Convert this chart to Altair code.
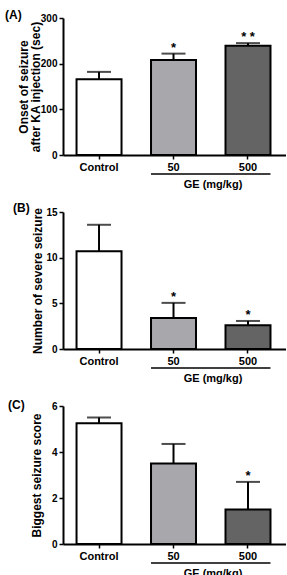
import altair as alt
import pandas as pd

categories = ["Control", "50", "500"]
fills = ["#ffffff", "#a8a7ab", "#646464"]

onset_mean = [166, 208, 239]
onset_err = [16, 14, 6]
onset_sig = ["", "*", "* *"]

severe_mean = [10.7, 3.4, 2.6]
severe_err = [2.9, 1.65, 0.47]
severe_sig = ["", "*", "*"]

score_mean = [5.25, 3.5, 1.5]
score_err = [0.25, 0.85, 1.2]
score_sig = ["", "", "*"]

FONT = "Liberation Sans"
W = 223


def xenc(field="group:N", **kw):
    return alt.X(field, sort=categories,
                 scale=alt.Scale(domain=categories, paddingInner=0.396,
                                 paddingOuter=0.195, align=0.466), **kw)


def panel(means, errs, sigs, ytitle, ymax, yticks, tag, tag_dx, tag_dy, title_x, h):
    df = pd.DataFrame({
        "group": categories,
        "mean": means,
        "upper": [m + e for m, e in zip(means, errs)],
        "sig": sigs,
        "fill": fills,
    })
    base = alt.Chart(df)
    x = xenc(axis=alt.Axis(title=None, labelAngle=0, labelFont=FONT, labelFontSize=11,
                           labelFontWeight="bold", labelColor="black", tickSize=4,
                           tickWidth=1.5, tickColor="black", domainColor="black",
                           domainWidth=2, labelPadding=2))
    y = alt.Y("mean:Q", scale=alt.Scale(domain=[0, ymax], nice=False, zero=True),
              axis=alt.Axis(title=ytitle, values=yticks, grid=False, labelFont=FONT,
                            labelFontSize=10, labelFontWeight="bold", labelColor="black",
                            tickSize=4, tickWidth=1.5, tickColor="black",
                            domainColor="black", domainWidth=2, labelPadding=2,
                            titleFont=FONT, titleFontSize=12, titleFontWeight="bold",
                            titleColor="black", titleX=title_x, titleLineHeight=12))
    bars = base.mark_bar(stroke="black", strokeWidth=2).encode(
        x=x, y=y, fill=alt.Fill("fill:N", scale=None))
    rule = base.mark_rule(color="black", strokeWidth=2).encode(
        x=xenc(), y="mean:Q", y2="upper:Q")
    cap = base.mark_tick(color="black", thickness=2, size=24).encode(
        x=xenc(), y="upper:Q")
    sig = base.mark_text(font=FONT, fontSize=13, fontWeight="bold", baseline="alphabetic",
                         dy=-2, color="black").encode(
        x=xenc(), y="upper:Q", text="sig:N")

    ann = alt.Chart(pd.DataFrame({"start": ["50"], "end": ["500"],
                                  "label": ["GE (mg/kg)"], "tag": [tag]}))
    ge_rule = ann.mark_rule(color="black", strokeWidth=1.3).encode(
        x=xenc("start:N", bandPosition=0),
        x2=alt.X2("end:N", bandPosition=1),
        y=alt.value(h + 19))
    ge_text = ann.mark_text(font=FONT, fontSize=11, fontWeight="bold", baseline="middle",
                            dx=17, color="black").encode(
        x=xenc("start:N", bandPosition=1), y=alt.value(h + 30), text="label:N")
    tag_text = ann.mark_text(font=FONT, fontSize=12, fontWeight="bold", baseline="middle",
                             align="left", color="black").encode(
        x=alt.value(tag_dx), y=alt.value(tag_dy), text="tag:N")

    return alt.layer(bars, rule, cap, sig, ge_rule, ge_text, tag_text).properties(
        width=W, height=h)


pA = panel(onset_mean, onset_err, onset_sig,
           ["Onset of seizure", "after KA injection (sec)"], 300, [0, 100, 200, 300],
           "(A)", -58, -3, -33, 137)
pB = panel(severe_mean, severe_err, severe_sig,
           "Number of severe seizure", 15, [0, 5, 10, 15],
           "(B)", -50, -4, -19, 137)
pC = panel(score_mean, score_err, score_sig,
           "Biggest seizure score", 6, [0, 2, 4, 6],
           "(C)", -55, -1, -20, 138)

chart = alt.VConcatChart(vconcat=[pA, pB, pC], spacing=57, bounds="flush").properties(
    padding={"left": 5, "top": 9, "right": 0, "bottom": 0},
    background="white",
).configure_view(stroke=None)

chart.save("out.html", embed_options={"renderer": "svg", "actions": False})
